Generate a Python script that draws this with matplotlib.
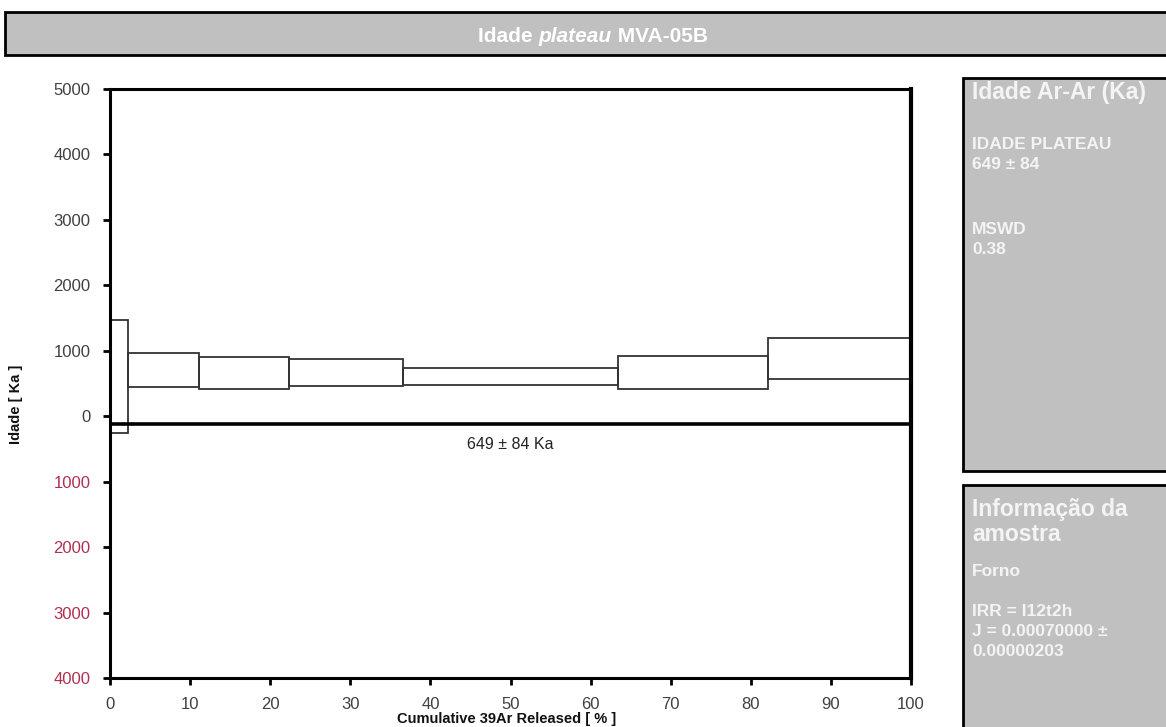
import matplotlib
matplotlib.use("Agg")
import matplotlib.pyplot as plt
from matplotlib.patches import Rectangle

plt.rcParams['font.family'] = ['Liberation Sans', 'DejaVu Sans']

# step heating data: cumulative 39Ar released (%) and age envelopes (Ka)
step_edges = [0.0, 2.2, 11.1, 22.3, 36.6, 63.4, 82.1, 100.0]
age_top = [1475, 960, 900, 870, 730, 915, 1200]
age_bottom = [-250, 442, 410, 460, 470, 410, 565]

plateau_line_y = -125
plateau_label = "649 \u00b1 84 Ka"

y_ticks = [-4000, -3000, -2000, -1000, 0, 1000, 2000, 3000, 4000, 5000]
x_ticks = [0, 10, 20, 30, 40, 50, 60, 70, 80, 90, 100]

W, H = 1166, 727
fig = plt.figure(figsize=(W / 100, H / 100), dpi=100)


def fx(px):
    return px / W


def fy(py):
    return 1 - py / H


# header bar
fig.patches.append(Rectangle((fx(5), fy(55)), fx(1175) - fx(5), fy(12) - fy(55),
                             transform=fig.transFigure, facecolor='#c0c0c0',
                             edgecolor='black', linewidth=2))
title_parts = [("Idade ", 'normal'), ("plateau", 'italic'), (" MVA-05B", 'normal')]
renderer = fig.canvas.get_renderer()
texts = []
for s, st in title_parts:
    t = fig.text(0, fy(36), s, fontsize=15, fontweight='bold', style=st,
                 color='white', va='center', ha='left',
                 family=['Liberation Sans Narrow', 'Liberation Sans'])
    texts.append(t)
widths = [t.get_window_extent(renderer).width for t in texts]
x0 = 593 - sum(widths) / 2
for t, w in zip(texts, widths):
    t.set_x(fx(x0))
    x0 += w

# main plot
ax = fig.add_axes([fx(110), fy(678), fx(911) - fx(110), fy(89) - fy(678)])
for i in range(len(age_top)):
    ax.add_patch(Rectangle((step_edges[i], age_bottom[i]),
                           step_edges[i + 1] - step_edges[i],
                           age_top[i] - age_bottom[i],
                           facecolor='none', edgecolor='#333333', linewidth=1.3))
ax.axhline(plateau_line_y, color='black', linewidth=2.6)
ax.text(50, -430, plateau_label, ha='center', va='center', fontsize=11.5,
        color='#222222', family=['Liberation Sans Narrow', 'Liberation Sans'])

ax.set_xlim(0, 100)
ax.set_ylim(-4000, 5000)
ax.set_xticks(x_ticks)
ax.set_yticks(y_ticks)
ax.set_yticklabels([str(abs(v)) for v in y_ticks])
for v, lab in zip(y_ticks, ax.get_yticklabels()):
    lab.set_color('#b03050' if v < 0 else '#404040')
for lab in ax.get_xticklabels():
    lab.set_color('#404040')
ax.tick_params(axis='both', direction='out', length=5, width=2, labelsize=12,
               color='black')
ax.tick_params(axis='y', pad=9)
ax.tick_params(axis='x', pad=9)
for side, lw in [('left', 2.2), ('bottom', 2.2), ('top', 2.2), ('right', 3)]:
    ax.spines[side].set_linewidth(lw)
    ax.spines[side].set_color('black')

fig.text(fx(16), fy(404), "Idade [ Ka ]", rotation=90, ha='center', va='center',
         fontsize=10.5, fontweight='bold', color='#111111')
fig.text(fx(507), fy(726), "Cumulative 39Ar Released [ % ]", ha='center', va='bottom',
         fontsize=10.5, fontweight='bold', color='#111111',
         family=['Liberation Sans Narrow', 'Liberation Sans'])

# side panels
for top, bottom in [(78, 471), (485, 732)]:
    fig.patches.append(Rectangle((fx(963), fy(bottom)), fx(1175) - fx(963), fy(top) - fy(bottom),
                                 transform=fig.transFigure, facecolor='#c0c0c0',
                                 edgecolor='black', linewidth=2))

panel_text = [
    ("Idade Ar-Ar (Ka)", 83, 16.5),
    ("IDADE PLATEAU", 139, 12.5),
    ("649 \u00b1 84", 159, 12.5),
    ("MSWD", 224, 12.5),
    ("0.38", 244, 12.5),
    ("Informa\u00e7\u00e3o da", 500, 16.5),
    ("amostra", 525, 16.5),
    ("Forno", 566, 12.5),
    ("IRR = I12t2h", 606, 12.5),
    ("J = 0.00070000 \u00b1", 626, 12.5),
    ("0.00000203", 646, 12.5),
]
for s, ytop, size in panel_text:
    fig.text(fx(972), fy(ytop - 2), s, ha='left', va='top', fontsize=size,
             fontweight='bold', color='#f4f4f4')

fig.savefig("out.png", dpi=100)
